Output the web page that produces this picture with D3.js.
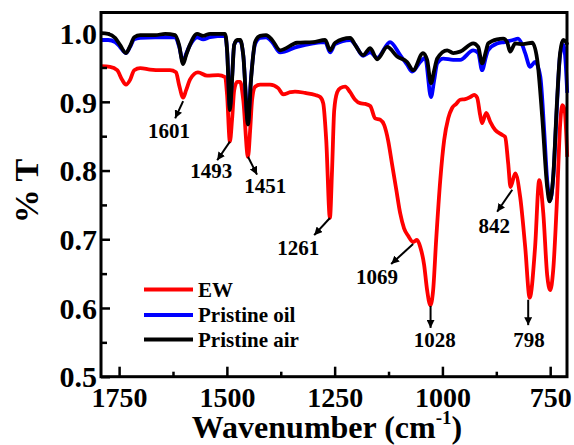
<!DOCTYPE html>
<html>
<head>
    <title>FTIR spectra</title>
    <script src="https://d3js.org/d3.v7.min.js"></script>
    <style>
        body { margin: 0; background: #fff; }
        text {
            font-family: "Liberation Serif", "Times New Roman", serif;
            font-weight: bold;
            fill: #000;
        }
    </style>
</head>
<body>
<div id="svg_container"></div>
<script>
    const width = 574;
    const height = 445;

    // EW (red)
    const ew_wn = [1792, 1771, 1754.5, 1743, 1734, 1724.5, 1715, 1701, 1678, 1655, 1632, 1618, 1611, 1601.5, 1594.5, 1585, 1567, 1546, 1520, 1504, 1499.5, 1493, 1488, 1483, 1476, 1469, 1462, 1451, 1446, 1441.5, 1434.5, 1423, 1400, 1381, 1369.5, 1353, 1342, 1318.5, 1295, 1283.5, 1276.5, 1269.5, 1261, 1256, 1251, 1244, 1237, 1225.5, 1214, 1202.5, 1191, 1179, 1167.5, 1156, 1144.5, 1135, 1126, 1116.5, 1107, 1098, 1089, 1079.5, 1068, 1059, 1051.5, 1042.5, 1035.5, 1028, 1021.5, 1014.5, 1005, 996, 986.5, 977.5, 968, 959, 947, 935.5, 926.5, 919.5, 912.5, 908, 898.5, 889, 877.5, 861.5, 854.5, 847.5, 842, 831, 819.5, 808, 797.5, 785, 775.5, 766, 757, 750, 743, 734, 727, 722, 716.5, 710.5];
    const ew_t = [0.952, 0.951, 0.946, 0.932, 0.925, 0.932, 0.946, 0.949, 0.947, 0.946, 0.946, 0.943, 0.925, 0.906, 0.917, 0.933, 0.943, 0.938, 0.939, 0.936, 0.910, 0.842, 0.874, 0.917, 0.929, 0.929, 0.903, 0.820, 0.859, 0.903, 0.922, 0.925, 0.925, 0.920, 0.911, 0.914, 0.915, 0.913, 0.910, 0.907, 0.898, 0.844, 0.731, 0.801, 0.888, 0.914, 0.920, 0.922, 0.914, 0.903, 0.898, 0.897, 0.894, 0.876, 0.874, 0.866, 0.844, 0.808, 0.772, 0.738, 0.716, 0.705, 0.696, 0.699, 0.689, 0.663, 0.626, 0.604, 0.626, 0.699, 0.786, 0.844, 0.876, 0.891, 0.897, 0.903, 0.904, 0.907, 0.910, 0.906, 0.881, 0.869, 0.884, 0.871, 0.859, 0.852, 0.849, 0.811, 0.776, 0.796, 0.761, 0.689, 0.615, 0.689, 0.786, 0.738, 0.648, 0.626, 0.655, 0.761, 0.866, 0.895, 0.888, 0.820];

    // Pristine oil (blue)
    const oil_wn = [1792, 1775.5, 1759, 1748, 1734, 1724.5, 1715, 1701, 1666.5, 1643, 1620, 1611, 1601.5, 1594.5, 1585, 1569, 1555, 1539, 1504, 1499.5, 1493, 1488, 1483, 1476, 1469, 1462, 1451, 1444, 1434.5, 1423, 1409, 1395, 1376.5, 1337, 1300, 1272, 1260.5, 1249, 1214, 1202.5, 1184, 1167.5, 1151.5, 1121.5, 1098, 1082, 1070, 1051.5, 1040, 1026.5, 1019, 1012, 998, 975, 959, 928.5, 917, 908, 898.5, 894, 873, 855.5, 836.5, 824.5, 815, 808, 796.5, 785, 773, 764, 757, 750, 743, 736, 727, 720, 715.5, 710.5];
    const oil_t = [0.990, 0.990, 0.987, 0.980, 0.971, 0.980, 0.991, 0.993, 0.994, 0.994, 0.994, 0.981, 0.958, 0.970, 0.983, 0.994, 0.991, 0.994, 0.996, 0.975, 0.893, 0.935, 0.983, 0.989, 0.989, 0.968, 0.872, 0.935, 0.984, 0.993, 0.994, 0.987, 0.972, 0.980, 0.985, 0.987, 0.972, 0.984, 0.990, 0.983, 0.967, 0.972, 0.964, 0.987, 0.968, 0.954, 0.944, 0.958, 0.964, 0.907, 0.932, 0.956, 0.963, 0.961, 0.961, 0.975, 0.971, 0.946, 0.967, 0.975, 0.985, 0.987, 0.990, 0.992, 0.983, 0.971, 0.951, 0.958, 0.937, 0.859, 0.786, 0.757, 0.789, 0.873, 0.968, 0.983, 0.968, 0.913];

    // Pristine air (black)
    const air_wn = [1792, 1775.5, 1759, 1748, 1734, 1724.5, 1715, 1701, 1666.5, 1643, 1620, 1611, 1601.5, 1594.5, 1585, 1569, 1555, 1539, 1504, 1499.5, 1493, 1488, 1483, 1476, 1469, 1462, 1451, 1444, 1434.5, 1423, 1409, 1395, 1376.5, 1337, 1300, 1272, 1260.5, 1249, 1214, 1202.5, 1184, 1167.5, 1151.5, 1128, 1105, 1082, 1068, 1045, 1035.5, 1026.5, 1019, 1012, 989, 975, 959, 928.5, 917, 908, 898.5, 894, 873, 859, 850, 843, 831, 813, 791.5, 780, 768.5, 757, 751.5, 743, 734, 727, 720, 713, 710.5];
    const air_t = [1.000, 0.999, 0.993, 0.983, 0.971, 0.981, 0.994, 0.997, 0.997, 0.999, 0.997, 0.983, 0.955, 0.968, 0.984, 0.999, 0.996, 0.999, 0.999, 0.975, 0.888, 0.932, 0.983, 0.990, 0.990, 0.968, 0.867, 0.932, 0.987, 0.996, 0.997, 0.990, 0.975, 0.986, 0.987, 0.990, 0.975, 0.986, 0.993, 0.983, 0.968, 0.978, 0.962, 0.980, 0.966, 0.958, 0.946, 0.971, 0.961, 0.927, 0.946, 0.963, 0.975, 0.971, 0.973, 0.985, 0.980, 0.956, 0.975, 0.985, 0.991, 0.992, 0.987, 0.973, 0.985, 0.984, 0.986, 0.961, 0.878, 0.776, 0.755, 0.791, 0.903, 0.971, 0.990, 0.987, 0.983];

    const x_ticks = [1750, 1500, 1250, 1000, 750];
    const x_minor = [1625, 1375, 1125, 875];
    const y_ticks = [0.5, 0.6, 0.7, 0.8, 0.9, 1.0];
    const y_minor = [0.55, 0.65, 0.75, 0.85, 0.95];

    const series_names = ["EW", "Pristine oil", "Pristine air"];
    const series_colors = ["#ff0000", "#0000ff", "#000000"];

    // peak labels: arrow start (peak), arrow end, label anchor
    const peak_labels = ["1601", "1493", "1451", "1261", "1069", "1028", "842", "798"];
    const peak_wn = [1601.5, 1493, 1451, 1261, 1068, 1027.5, 838, 801];
    const peak_t = [0.901, 0.842, 0.820, 0.731, 0.693, 0.603, 0.772, 0.612];
    const arrow_wn = [1620, 1522.5, 1430, 1297.5, 1119, 1027.5, 873, 801];
    const arrow_t = [0.876, 0.815, 0.794, 0.706, 0.664, 0.571, 0.740, 0.575];
    const label_wn = [1634, 1536.5, 1411, 1334.5, 1151.5, 1018, 880, 799];
    const label_t = [0.847, 0.789, 0.767, 0.677, 0.635, 0.543, 0.709, 0.543];

    const margin = {left: 101, top: 12.5, right: 7, bottom: 68.3};

    const svg = d3.select("#svg_container")
        .append("svg")
        .attr("width", width)
        .attr("height", height);

    const x = d3.scaleLinear()
        .domain([1792, 711])
        .range([margin.left, width - margin.right]);

    const y = d3.scaleLinear()
        .domain([0.5, 1.03])
        .range([height - margin.bottom, margin.top]);

    svg.append("defs")
        .append("marker")
        .attr("id", "arrow")
        .attr("viewBox", "0 0 10 10")
        .attr("refX", 10)
        .attr("refY", 5)
        .attr("markerWidth", 8)
        .attr("markerHeight", 8)
        .attr("markerUnits", "userSpaceOnUse")
        .attr("orient", "auto")
        .append("path")
        .attr("d", "M 0 0 L 10 5 L 0 10 z")
        .attr("fill", "#000");

    // curves
    const curves = [
        {wn: ew_wn, t: ew_t},
        {wn: oil_wn, t: oil_t},
        {wn: air_wn, t: air_t}
    ];

    const line = d3.line()
        .x(d => x(d[0]))
        .y(d => y(d[1]))
        .curve(d3.curveMonotoneX);

    curves.forEach((c, i) => {
        const pts = c.wn.map((w, j) => [w, c.t[j]]);
        svg.append("path")
            .attr("d", line(pts))
            .attr("fill", "none")
            .attr("stroke", series_colors[i])
            .attr("stroke-width", 3.8)
            .attr("stroke-linejoin", "round");
    });

    // frame
    svg.append("rect")
        .attr("x", margin.left)
        .attr("y", margin.top)
        .attr("width", width - margin.left - margin.right)
        .attr("height", height - margin.top - margin.bottom)
        .attr("fill", "none")
        .attr("stroke", "#000")
        .attr("stroke-width", 3);

    // axes with inward ticks
    const x_axis = svg.append("g")
        .attr("transform", "translate(0," + (height - margin.bottom) + ")")
        .call(d3.axisBottom(x).tickValues(x_ticks).tickSize(-10).tickPadding(10).tickFormat(d3.format("d")));
    svg.append("g")
        .attr("transform", "translate(0," + (height - margin.bottom) + ")")
        .call(d3.axisBottom(x).tickValues(x_minor).tickSize(-5).tickFormat(""));

    const y_axis = svg.append("g")
        .attr("transform", "translate(" + margin.left + ",0)")
        .call(d3.axisLeft(y).tickValues(y_ticks).tickSize(-9).tickPadding(4).tickFormat(d3.format(".1f")));
    svg.append("g")
        .attr("transform", "translate(" + margin.left + ",0)")
        .call(d3.axisLeft(y).tickValues(y_minor).tickSize(-6).tickFormat(""));

    svg.selectAll(".domain").remove();
    svg.selectAll(".tick line").attr("stroke", "#000").attr("stroke-width", 2.5);

    x_axis.selectAll("text")
        .style("font-family", "'Liberation Serif', serif")
        .style("font-weight", "bold")
        .style("font-size", "28px");
    y_axis.selectAll("text")
        .style("font-family", "'Liberation Serif', serif")
        .style("font-weight", "bold")
        .style("font-size", "30px")
        .attr("dy", "0.34em");

    // peak annotations
    peak_labels.forEach((lab, i) => {
        svg.append("line")
            .attr("x1", x(peak_wn[i]))
            .attr("y1", y(peak_t[i]))
            .attr("x2", x(arrow_wn[i]))
            .attr("y2", y(arrow_t[i]))
            .attr("stroke", "#000")
            .attr("stroke-width", 2)
            .attr("marker-end", "url(#arrow)");
        svg.append("text")
            .attr("x", x(label_wn[i]))
            .attr("y", y(label_t[i]))
            .attr("text-anchor", "middle")
            .style("font-size", "21px")
            .text(lab);
    });

    // legend
    const legend_y = [289.5, 315, 339.5];
    series_names.forEach((name, i) => {
        svg.append("line")
            .attr("x1", 144)
            .attr("x2", 193)
            .attr("y1", legend_y[i])
            .attr("y2", legend_y[i])
            .attr("stroke", series_colors[i])
            .attr("stroke-width", 4);
        svg.append("text")
            .attr("x", 198)
            .attr("y", legend_y[i] + 7)
            .style("font-size", "21px")
            .text(name);
    });

    // axis titles
    const xt = svg.append("text")
        .attr("x", 327)
        .attr("y", 437.5)
        .attr("text-anchor", "middle")
        .style("font-size", "32px");
    xt.append("tspan").text("Wavenumber (cm");
    xt.append("tspan").attr("dy", -14).style("font-size", "19px").text("-1");
    xt.append("tspan").attr("dy", 14).text(")");

    svg.append("text")
        .attr("transform", "translate(38,191) rotate(-90)")
        .attr("text-anchor", "middle")
        .style("font-size", "34px")
        .text("% T");
</script>
</body>
</html>
